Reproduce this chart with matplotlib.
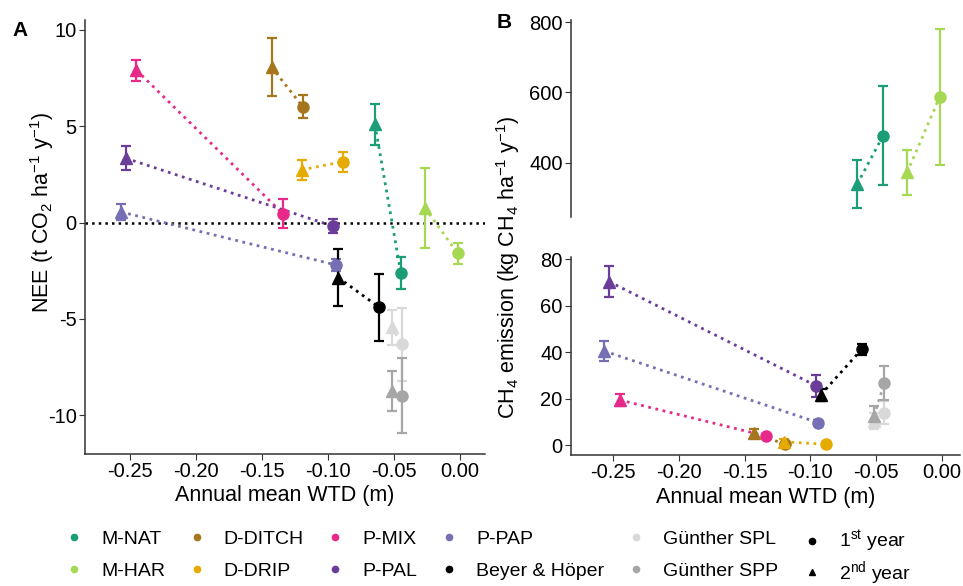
import numpy as np
import matplotlib
matplotlib.use("Agg")
import matplotlib.pyplot as plt
from matplotlib.lines import Line2D

plt.rcParams['font.family'] = ['Liberation Sans', 'DejaVu Sans']
plt.rcParams['mathtext.default'] = 'regular'

sites = ['M-NAT', 'M-HAR', 'D-DITCH', 'D-DRIP', 'P-MIX', 'P-PAL', 'P-PAP',
         'Beyer & Höper', 'Günther SPL', 'Günther SPP']
colors = ['#1b9e77', '#a6d854', '#a6761d', '#e6ab02', '#e7298a', '#6a3d9a',
          '#7570b3', '#000000', '#d9d9d9', '#a6a6a6']
years = ['1$^{st}$ year', '2$^{nd}$ year']

# annual mean water table depth (m), 1st and 2nd year
wtd_y1 = [-0.0447, -0.0017, -0.119, -0.0884, -0.134, -0.096, -0.094, -0.0611, -0.0437, -0.0437]
wtd_y2 = [-0.0644, -0.0265, -0.1427, -0.120, -0.245, -0.253, -0.2568, -0.0922, -0.0517, -0.0517]

# NEE (t CO2 / ha / y)
nee_y1 = [-2.63, -1.6, 6.0, 3.16, 0.45, -0.19, -2.2, -4.4, -6.32, -8.98]
nee_y1_err = [0.84, 0.56, 0.6, 0.52, 0.75, 0.37, 0.3, 1.75, 1.87, 1.95]
nee_y2 = [5.09, 0.76, 8.06, 2.73, 7.9, 3.33, 0.55, -2.85, -5.43, -8.75]
nee_y2_err = [1.07, 2.08, 1.5, 0.5, 0.55, 0.63, 0.43, 1.46, 0.92, 1.03]

# CH4 (kg CH4 / ha / y)
ch4_y1 = [477, 587, 0.3, 0.3, 3.9, 25.6, 9.6, 41.2, 13.9, 26.9]
ch4_y1_err = [141, 194, 0.6, 0.5, 1.0, 4.7, 1.2, 2.5, 5.0, 7.3]
ch4_y2 = [339, 372, 5.0, 1.4, 19.4, 70.4, 40.5, 21.6, 10.5, 12.5]
ch4_y2_err = [69, 65, 2.0, 1.0, 2.5, 6.8, 4.3, 2.7, 3.5, 4.5]

W, H = 963, 586
fig = plt.figure(figsize=(W / 100, H / 100), dpi=100)

def box(l, t, r, b):
    return [l / W, 1 - b / H, (r - l) / W, (b - t) / H]

axA = fig.add_axes(box(85, 20, 485, 454))
axBt = fig.add_axes(box(571, 20, 960, 217))
axBb = fig.add_axes(box(571, 257, 960, 455))

def draw(ax, y1, e1, y2, e2):
    for i in range(len(sites)):
        c = colors[i]
        ax.plot([wtd_y2[i], wtd_y1[i]], [y2[i], y1[i]], ls=':', lw=2, color=c, zorder=2)
        ax.errorbar(wtd_y2[i], y2[i], yerr=e2[i], fmt='^', ms=9, color=c,
                    elinewidth=1.6, capsize=3.5, capthick=1.6, zorder=3)
        ax.errorbar(wtd_y1[i], y1[i], yerr=e1[i], fmt='o', ms=8, color=c,
                    elinewidth=1.6, capsize=3.5, capthick=1.6, zorder=3)

draw(axA, nee_y1, nee_y1_err, nee_y2, nee_y2_err)
axA.axhline(0, ls=':', lw=1.8, color='black', zorder=1)
draw(axBt, ch4_y1, ch4_y1_err, ch4_y2, ch4_y2_err)
draw(axBb, ch4_y1, ch4_y1_err, ch4_y2, ch4_y2_err)

xt = [-0.25, -0.20, -0.15, -0.10, -0.05, 0.00]
xtl = ['-0.25', '-0.20', '-0.15', '-0.10', '-0.05', '0.00']

axA.set_xlim(-0.284, 0.019)
axA.set_ylim(-12, 10.5)
axA.set_yticks([-10, -5, 0, 5, 10])
axA.set_yticklabels(['-10', '-5', '0', '5', '10'])
axA.set_xticks(xt)
axA.set_xticklabels(xtl)
axA.set_xlabel('Annual mean WTD (m)', fontsize=15.5, labelpad=3)

axBt.set_xlim(-0.282, 0.0137)
axBt.set_ylim(245, 806)
axBt.set_yticks([400, 600, 800])
axBt.set_xticks([])
axBt.spines['bottom'].set_visible(False)

axBb.set_xlim(-0.282, 0.0137)
axBb.set_ylim(-4.3, 81)
axBb.set_yticks([0, 20, 40, 60, 80])
axBb.set_xticks(xt)
axBb.set_xticklabels(xtl)
axBb.set_xlabel('Annual mean WTD (m)', fontsize=15.5, labelpad=3)

for ax in (axA, axBt, axBb):
    ax.spines['top'].set_visible(False)
    ax.spines['right'].set_visible(False)
    for s in ('left', 'bottom'):
        ax.spines[s].set_color('#333333')
        ax.spines[s].set_linewidth(1.1)
    ax.tick_params(labelsize=14.5, length=4, pad=2, color='#333333', labelcolor='black')

fig.text(42 / W, 1 - 212 / H, 'NEE (t CO$_2$ ha$^{-1}$ y$^{-1}$)',
         rotation=90, ha='center', va='center', fontsize=15.5)
fig.text(508 / W, 1 - 267 / H, 'CH$_4$ emission (kg CH$_4$ ha$^{-1}$ y$^{-1}$)',
         rotation=90, ha='center', va='center', fontsize=15.5)

fig.text(12 / W, 1 - 30 / H, 'A', fontsize=15, fontweight='bold', ha='left', va='center')
fig.text(497 / W, 1 - 22 / H, 'B', fontsize=15, fontweight='bold', ha='left', va='center')

# legend: sites
site_handles = [Line2D([], [], ls='none', marker='o', ms=4.5, color=c) for c in colors]
fig.legend(site_handles, sites, loc='center left', bbox_to_anchor=(66 / W, 1 - 555 / H),
           ncol=5, frameon=False, fontsize=14, handletextpad=1.0,
           columnspacing=1.22, handlelength=0.8, labelspacing=0.75,
           borderpad=0, borderaxespad=0)

# legend: years
year_handles = [Line2D([], [], ls='none', marker='o', ms=4.5, color='black'),
                Line2D([], [], ls='none', marker='^', ms=4.5, color='black')]
fig.legend(year_handles, years, loc='center left', bbox_to_anchor=(804 / W, 1 - 558 / H),
           ncol=1, frameon=False, fontsize=14, handletextpad=1.0,
           handlelength=0.8, labelspacing=0.25, borderpad=0, borderaxespad=0)

fig.savefig('out.png', dpi=100)
